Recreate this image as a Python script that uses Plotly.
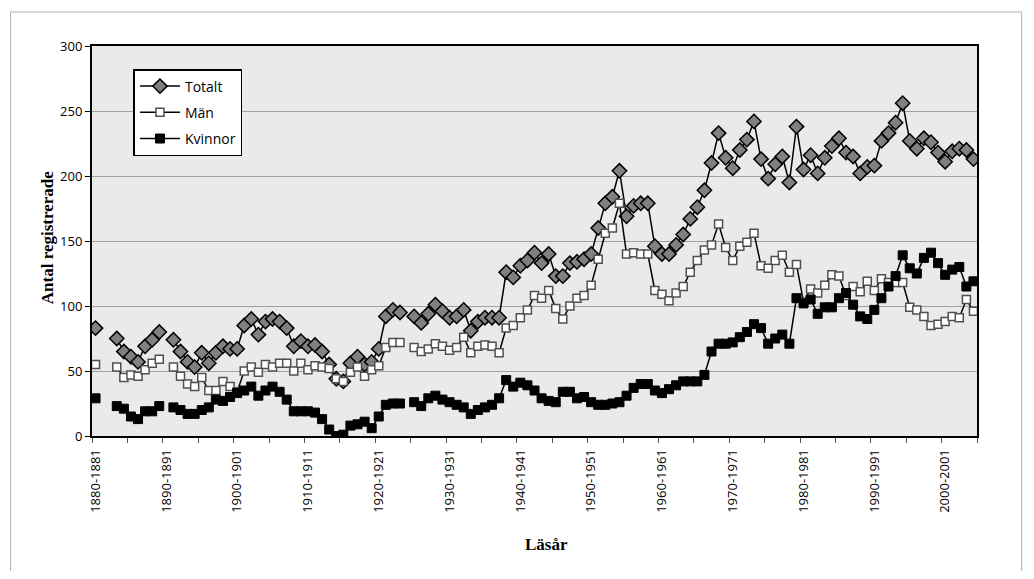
import plotly.graph_objects as go

# ─────────────────────────────────
# Datos
# ─────────────────────────────────
lasar = [f"{a}-{a + 1}" for a in range(1880, 2005)]

totalt = [83, None, None, 75, 65, 61, 57, 69, 74, 80,
          None, 74, 65, 57, 53, 64, 56, 64, 69, 67,
          67, 85, 90, 78, 88, 90, 88, 83, 69, 73,
          69, 70, 65, 55, 44, 42, 56, 61, 55, 57,
          67, 92, 97, 95, None, 92, 87, 94, 101, 96,
          91, 92, 97, 81, 88, 91, 91, 91, 126, 122,
          131, 135, 141, 133, 140, 123, 123, 133, 134, 136,
          140, 160, 179, 184, 204, 169, 177, 179, 179, 146,
          140, 140, 147, 155, 167, 176, 189, 210, 233, 214,
          206, 220, 228, 242, 213, 198, 209, 215, 195, 238,
          205, 216, 202, 214, 223, 229, 218, 215, 202, 207,
          208, 227, 233, 241, 256, 227, 221, 229, 226, 218,
          211, 219, 221, 220, 213]

man = [55, None, None, 53, 45, 47, 46, 51, 56, 59,
       None, 53, 46, 40, 38, 45, 35, 35, 42, 38,
       34, 50, 53, 49, 55, 53, 56, 56, 50, 56,
       51, 54, 53, 52, 44, 42, 49, 53, 46, 51,
       54, 68, 72, 72, None, 68, 65, 67, 71, 69,
       66, 68, 76, 64, 69, 70, 69, 64, 83, 85,
       91, 97, 108, 106, 112, 98, 90, 100, 106, 108,
       116, 136, 156, 160, 179, 140, 141, 140, 140, 112,
       109, 104, 110, 115, 126, 135, 143, 147, 163, 145,
       135, 146, 149, 156, 131, 129, 135, 139, 126, 132,
       103, 113, 110, 116, 124, 123, 108, 115, 111, 119,
       112, 121, 118, 118, 118, 99, 97, 92, 85, 86,
       88, 92, 91, 105, 96]

kvinnor = [29, None, None, 23, 21, 15, 13, 19, 19, 23,
           None, 22, 20, 17, 17, 20, 22, 28, 27, 30,
           33, 35, 38, 31, 35, 38, 34, 28, 19, 19,
           19, 18, 13, 5, 0, 1, 8, 9, 11, 6,
           15, 24, 25, 25, None, 26, 23, 29, 31, 28,
           26, 24, 22, 17, 20, 22, 24, 29, 43, 38,
           41, 39, 35, 29, 27, 26, 34, 34, 29, 30,
           26, 24, 24, 25, 26, 31, 37, 40, 40, 35,
           33, 36, 39, 42, 42, 42, 47, 65, 71, 71,
           72, 76, 80, 86, 83, 71, 75, 78, 71, 106,
           102, 105, 94, 99, 99, 106, 110, 101, 92, 90,
           97, 106, 115, 123, 139, 129, 125, 137, 141, 133,
           124, 128, 130, 115, 119]

x = list(range(len(lasar)))
etiquetas = list(range(0, len(lasar), 10))

# ─────────────────────────────────
# Figura (la página tiene 8 px de margen en el body)
# ─────────────────────────────────
OFF = 8
W, H = 1034 - 2 * OFF, 579 - 2 * OFF
L, T = 91.5 - OFF, 46 - OFF
R = W - (977.3 - OFF)
B = H - (435.7 - OFF)
pw, ph = W - L - R, H - T - B


def px_x(p):
    # p en coordenadas de la ventana
    return (p - OFF - L) / pw


def px_y(p):
    return (H - B - (p - OFF)) / ph


fig = go.Figure()

series = [
    ("Totalt", totalt, dict(symbol="diamond", size=11, color="#808080",
                            line=dict(color="black", width=1.5))),
    ("Män", man, dict(symbol="square", size=8, color="white",
                      line=dict(color="#505050", width=1.5))),
    ("Kvinnor", kvinnor, dict(symbol="square", size=9, color="black",
                              line=dict(color="black", width=1))),
]
for nombre, valores, marcador in series:
    fig.add_trace(go.Scatter(
        x=x, y=valores, name=nombre, mode="lines+markers",
        line=dict(color="black", width=1.5),
        marker=marcador, legendgroup=nombre,
        connectgaps=False,
    ))

fig.update_xaxes(
    range=[-0.5, len(lasar) - 0.5],
    tickmode="array", tickvals=etiquetas,
    ticktext=[lasar[i] for i in etiquetas],
    tickangle=-90, ticks="", ticklabelstandoff=6,
    tickfont=dict(family="Open Sans", size=13, color="black"),
    showgrid=False, zeroline=False,
    showline=True, linecolor="black", linewidth=2, mirror=True,
    minor=dict(tickmode="linear", tick0=-0.5, dtick=5, ticks="outside",
               ticklen=5, tickcolor="#555", tickwidth=1, showgrid=False),
)
fig.update_yaxes(
    range=[0, 300], tickmode="linear", tick0=0, dtick=50,
    ticks="outside", ticklen=5, tickcolor="black",
    tickfont=dict(family="Open Sans", size=13, color="black"),
    showgrid=True, gridcolor="#a0a0a0", gridwidth=1, zeroline=False,
    showline=True, linecolor="black", linewidth=2, mirror=True,
)

fig.add_annotation(
    text="<b>Antal registrerade</b>", xref="paper", yref="paper",
    x=px_x(35), y=px_y(238), textangle=-90, showarrow=False,
    font=dict(family="Liberation Serif", size=17, color="black"),
)
fig.add_annotation(
    text="<b>Läsår</b>", xref="paper", yref="paper",
    x=px_x(546), y=px_y(556), showarrow=False,
    font=dict(family="Liberation Serif", size=17, color="black"),
)

# marco exterior
fig.add_shape(type="rect", xref="paper", yref="paper",
              x0=px_x(10), x1=px_x(1022), y0=px_y(600), y1=px_y(12),
              line=dict(color="#b0b0b0", width=1), layer="below")

fig.update_layout(
    width=W, height=H,
    margin=dict(l=L, r=R, t=T, b=B, pad=0),
    paper_bgcolor="white", plot_bgcolor="#eaeaea",
    showlegend=True,
    legend=dict(
        x=px_x(133), y=px_y(69), xanchor="left", yanchor="top",
        bgcolor="white", bordercolor="black", borderwidth=1.5,
        font=dict(family="Open Sans", size=14, color="black"),
        tracegroupgap=5, itemwidth=40,
    ),
)

fig.write_html("out.html")
